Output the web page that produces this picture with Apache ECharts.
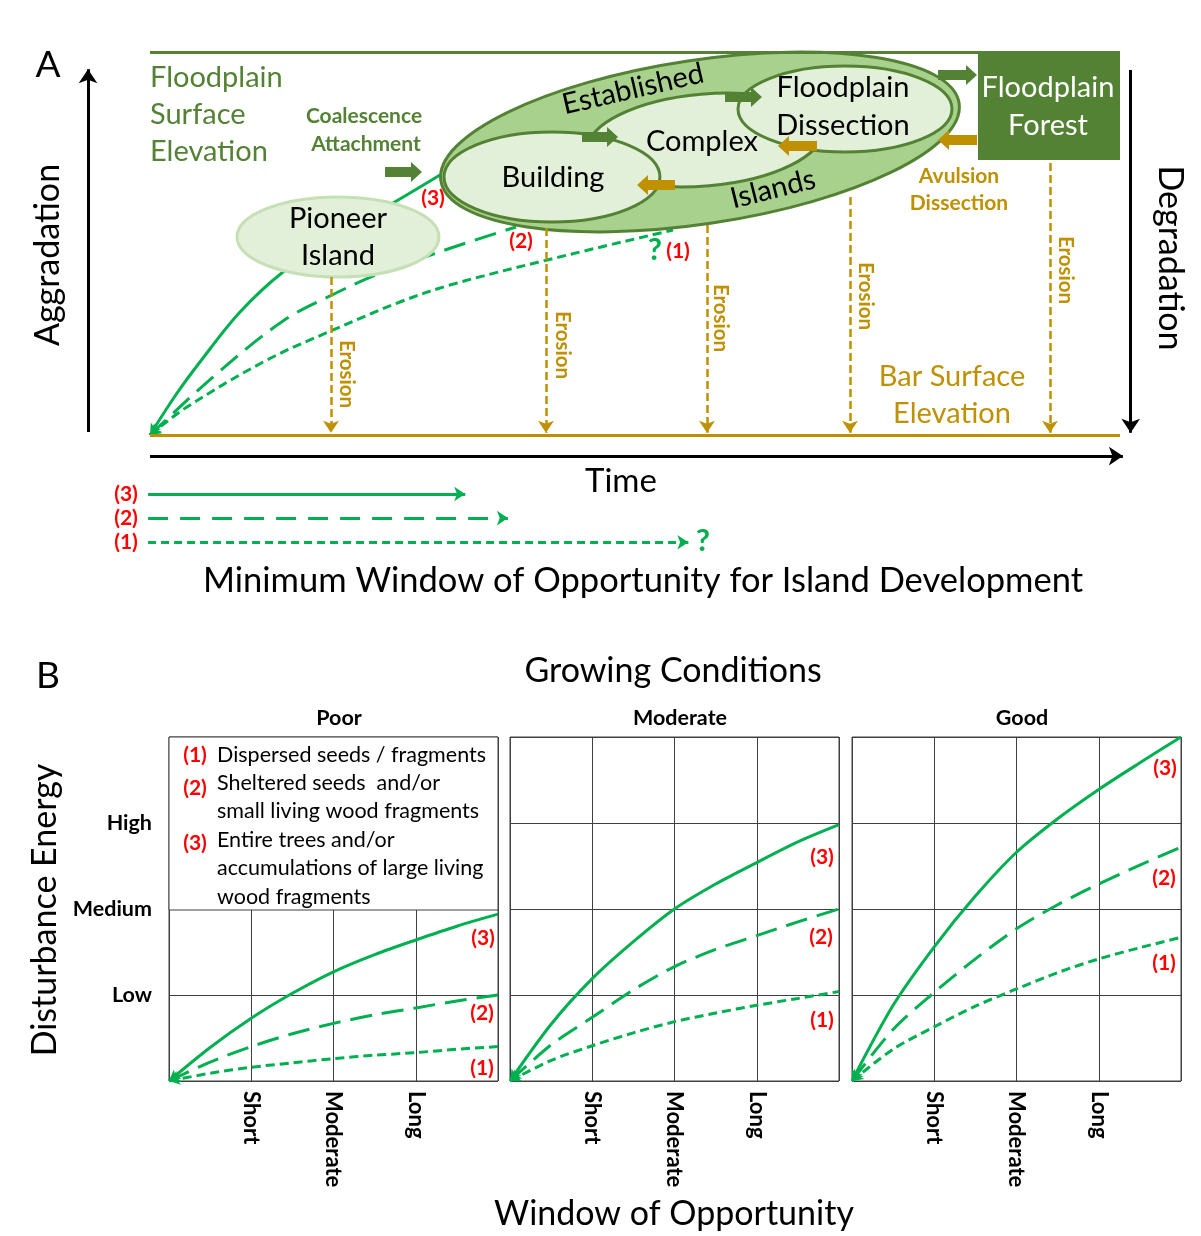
<!DOCTYPE html>
<html><head><meta charset="utf-8">
<script src="https://cdn.jsdelivr.net/npm/echarts@6/dist/echarts.min.js"></script>
<style>html,body{margin:0;padding:0;background:#fff}#c{width:1201px;height:1236px}</style>
</head><body><div id="c"></div>
<script>
// ---------- Panel A: island development over time (time %, elevation %) ----------
// (3) entire trees, (2) sheltered seeds / small fragments, (1) dispersed seeds
const trajectory3 = [[0,0],[2.58,10.18],[5.15,19.06],[9.28,32.11],[13.71,42.56],[19.59,52.74],[25.05,60.57],[30.41,68.67]];
const trajectory2 = [[0,0],[6.49,15.14],[13.71,29.77],[18.97,36.81],[23.51,42.04],[30.72,48.56],[37.73,54.31]];
const trajectory1 = [[0,0],[3.81,7.31],[12.06,19.58],[18.87,27.42],[25.77,34.73],[30.93,39.16],[40.93,45.69],[53.92,53.52]];

// erosion events: time and elevation the surface is cut down from
const erosionTime = [18.66, 40.82, 57.42, 72.16, 92.78];
const erosionFrom = [41.25, 54.05, 54.83, 62.14, 71.02];

// minimum window of opportunity (time %) for each propagule class
const windowClass = ['(3)', '(2)', '(1)'];
const windowEnd = [32.5, 36.9, 55.5];

// landform stages: centre time, centre elevation, half-extent in time, half-extent in elevation, tilt (deg)
const stageNames = ['Established Islands', 'Complex', 'Building', 'Floodplain Dissection', 'Pioneer Island'];
const stageExtent = [
  [56.70, 76.50, 27.01, 21.41, 8.5],
  [57.22, 77.02, 12.16, 12.01, 5],
  [41.44, 67.36, 11.13, 11.75, 0],
  [71.65, 85.12, 11.03, 11.23, 0],
  [19.38, 51.70, 10.41, 10.44, 0]
];
const forestExtent = [85.36, 100, 71.8, 100];

// stage transitions: from time, to time, elevation (green = succession, gold = reset)
const advanceSteps = [[24.23, 28.04, 68.67], [44.54, 48.25, 77.81], [59.28, 63.09, 88.25], [81.24, 85.26, 94.0]];
const resetSteps = [[85.26, 81.24, 77.02], [68.76, 64.74, 75.46], [54.12, 50.21, 65.27]];

// ---------- Panel B: disturbance energy tolerated vs window of opportunity ----------
const conditions = ['Poor', 'Moderate', 'Good'];
const windowTicks = ['', 'Short', 'Moderate', 'Long', ''];
const energyTicks = ['', 'Low', 'Medium', 'High', ''];
const windowSteps = [0, 0.5, 1, 1.5, 2, 2.5, 3, 3.5, 4];
const energy3 = [
  [0, 0.39, 0.73, 1.02, 1.27, 1.47, 1.64, 1.80, 1.94],
  [0, 0.66, 1.19, 1.62, 2.00, 2.29, 2.54, 2.78, 2.98],
  [0, 0.88, 1.56, 2.15, 2.66, 3.05, 3.39, 3.70, 4.00]
];
const energy2 = [
  [0, 0.22, 0.40, 0.55, 0.67, 0.77, 0.85, 0.93, 1.00],
  [0, 0.42, 0.74, 1.06, 1.33, 1.53, 1.69, 1.85, 2.00],
  [0, 0.60, 1.03, 1.42, 1.77, 2.05, 2.29, 2.51, 2.72]
];
const energy1 = [
  [0, 0.09, 0.16, 0.21, 0.26, 0.30, 0.33, 0.37, 0.40],
  [0, 0.24, 0.41, 0.56, 0.69, 0.79, 0.88, 0.96, 1.04],
  [0, 0.37, 0.63, 0.87, 1.07, 1.26, 1.42, 1.55, 1.67]
];

// ---------- styling ----------
const FONT = 'Lato';
const GREEN = '#00b050', DARK = '#548235', GOLD = '#bf9000', RED = '#ff0000';
const LIGHT = '#e2f0d9', MID = '#a9d18e';
const DASH_LONG = [22, 10], DASH_SHORT = [9, 5];
const stageFill = [MID, LIGHT, LIGHT, LIGHT, LIGHT];
const stageStroke = [DARK, DARK, DARK, DARK, '#c5e0b4'];
const BIG = 29, HUGE = 34, SMALL = 21;

const chart = echarts.init(document.getElementById('c'));

function txt(text, x, y, size, color, o) {
  o = o || {};
  return {
    type: 'text', x: x, y: y, z: 100, silent: true,
    rotation: (o.rot || 0) * Math.PI / 180,
    style: {
      text: text, fill: color,
      font: (o.bold ? 'bold ' : '') + size + 'px ' + FONT,
      align: o.align || 'center', verticalAlign: 'middle'
    }
  };
}
const zip = (xs, ys) => xs.map((x, i) => [x, ys[i]]);

// put a small arrowhead on the first point, pointing back along the curve
// (sx, sy: pixels per axis unit, used only to orient the head)
function withStartArrow(pts, sx, sy) {
  const dx = (pts[1][0] - pts[0][0]) * sx, dy = (pts[1][1] - pts[0][1]) * sy;
  const rot = Math.atan2(dy, dx) * 180 / Math.PI + 90;
  return pts.map((p, i) => i === 0
    ? { value: p, symbol: 'arrow', symbolSize: [9, 11], symbolRotate: rot }
    : { value: p, symbol: 'none' });
}

// ---- axes ----
const xAxes = [{ gridIndex: 0, type: 'value', min: -8, max: 105, show: false }];
const yAxes = [{ gridIndex: 0, type: 'value', min: -32, max: 100, show: false }];
const grids = [{ left: 72.4, top: 52, width: 1096.1, height: 505.56, show: false, outerBoundsMode: 'none' }];
const bLeft = [169, 510, 852];
conditions.forEach((c, i) => {
  grids.push({ left: bLeft[i], top: 737, width: 329, height: 344, show: true, outerBoundsMode: 'none',
    borderColor: '#404040', borderWidth: 1, backgroundColor: 'transparent' });
  xAxes.push({
    gridIndex: i + 1, type: 'value', min: 0, max: 4, interval: 1,
    axisLine: { show: false }, axisTick: { show: false },
    splitLine: { show: true, lineStyle: { color: '#404040', width: 1 } },
    axisLabel: { rotate: -90, margin: 10, fontFamily: FONT, fontWeight: 'bold', fontSize: 22, color: '#000',
      formatter: v => windowTicks[v] }
  });
  yAxes.push({
    gridIndex: i + 1, type: 'value', min: 0, max: 4, interval: 1,
    axisLine: { show: false }, axisTick: { show: false },
    splitLine: { show: true, lineStyle: { color: '#404040', width: 1 } },
    axisLabel: { show: i === 0, margin: 17, fontFamily: FONT, fontWeight: 'bold', fontSize: 21.5, color: '#000',
      formatter: v => energyTicks[v] }
  });
});

// ---- series ----
const series = [];
function aLine(name, data, dash) {
  series.push({ name: name, type: 'line', xAxisIndex: 0, yAxisIndex: 0,
    data: withStartArrow(data, 9.7, 3.83), smooth: 0.35,
    showSymbol: true, z: 2, silent: true, itemStyle: { color: GREEN },
    lineStyle: { color: GREEN, width: 3, type: dash } });
}
aLine('(3)', trajectory3, 'solid');
aLine('(2)', trajectory2, DASH_LONG);
aLine('(1)', trajectory1, DASH_SHORT);

// frame lines, axis arrows, erosion arrows
function mlSeries(lines, color, width, dash, arrowSize, z) {
  series.push({
    type: 'line', xAxisIndex: 0, yAxisIndex: 0, data: [], z: z || 3, silent: true,
    markLine: {
      silent: true, animation: false, symbol: ['none', arrowSize ? 'arrow' : 'none'],
      symbolSize: arrowSize || 0, label: { show: false },
      lineStyle: { color: color, width: width, type: dash },
      emphasis: { disabled: true },
      data: lines.map(l => [{ coord: l[0] }, { coord: l[1] }])
    }
  });
}
mlSeries([[[0, 100], [100, 100]]], DARK, 3, 'solid', 0, 1);
mlSeries([[[0, 0], [100, 0]]], GOLD, 3, 'solid', 0, 3);
mlSeries(erosionTime.map((t, i) => [[t, erosionFrom[i]], [t, 0.6]]), GOLD, 2.5, [8, 4], 12, 3);
mlSeries([[[-6.39, 0.8], [-6.39, 95.5]], [[101.1, 95.3], [101.1, 0.6]], [[0, -5.5], [100.3, -5.5]]], '#000', 3, 'solid', 14, 3);
const wDash = ['solid', [20, 12], [8, 5]];
windowClass.forEach((w, i) => {
  mlSeries([[[-0.2, -15.4 - 6.3 * i], [windowEnd[i], -15.4 - 6.3 * i]]], GREEN, 3, wDash[i], 11, 3);
});

// landform stages as ellipses, forest as a block
series.push({
  type: 'custom', xAxisIndex: 0, yAxisIndex: 0, z: 4, silent: true, clip: false,
  data: stageExtent,
  renderItem: function (params, api) {
    const i = params.dataIndex;
    const c = api.coord([api.value(0), api.value(1)]);
    const s = api.size([api.value(2), api.value(3)]);
    return {
      type: 'ellipse', x: c[0], y: c[1], rotation: api.value(4) * Math.PI / 180,
      shape: { cx: 0, cy: 0, rx: s[0], ry: s[1] },
      style: { fill: stageFill[i], stroke: stageStroke[i], lineWidth: 3 }
    };
  }
});
series.push({
  type: 'custom', xAxisIndex: 0, yAxisIndex: 0, z: 4, silent: true, clip: false,
  data: [forestExtent],
  renderItem: function (params, api) {
    const p0 = api.coord([api.value(0), api.value(3)]);
    const p1 = api.coord([api.value(1), api.value(2)]);
    return { type: 'rect', shape: { x: p0[0], y: p0[1], width: p1[0] - p0[0], height: p1[1] - p0[1] },
      style: { fill: DARK } };
  }
});
function blockArrows(steps, color) {
  series.push({
    type: 'custom', xAxisIndex: 0, yAxisIndex: 0, z: 5, silent: true, clip: false,
    data: steps,
    renderItem: function (params, api) {
      const a = api.coord([api.value(0), api.value(2)]);
      const b = api.coord([api.value(1), api.value(2)]);
      const d = b[0] > a[0] ? 1 : -1, head = 11, sh = 5, hh = 10, y = a[1];
      const hx = b[0] - d * head;
      return { type: 'polygon', shape: { points: [
        [a[0], y - sh], [hx, y - sh], [hx, y - hh], [b[0], y], [hx, y + hh], [hx, y + sh], [a[0], y + sh]] },
        style: { fill: color } };
    }
  });
}
blockArrows(advanceSteps, DARK);
blockArrows(resetSteps, GOLD);

// panel B curves
const bDash = ['solid', DASH_LONG, DASH_SHORT];
conditions.forEach((c, i) => {
  [energy3[i], energy2[i], energy1[i]].forEach((vals, k) => {
    series.push({ name: c + ' (' + (3 - k) + ')', type: 'line', xAxisIndex: i + 1, yAxisIndex: i + 1,
      data: withStartArrow(zip(windowSteps, vals), 82.25, 86), smooth: 0.3, showSymbol: true, z: 3, silent: true,
      itemStyle: { color: GREEN },
      lineStyle: { color: GREEN, width: 3, type: bDash[k] } });
  });
});

// ---- text ----
const g = [];
// panel A
g.push(txt('A', 48, 65, 37, '#000'));
g.push(txt('Floodplain', 150, 78, BIG, DARK, { align: 'left' }));
g.push(txt('Surface', 150, 115, BIG, DARK, { align: 'left' }));
g.push(txt('Elevation', 150, 152, BIG, DARK, { align: 'left' }));
g.push(txt('Coalescence', 364, 116, SMALL, DARK, { bold: true }));
g.push(txt('Attachment', 366, 144, SMALL, DARK, { bold: true }));
g.push(txt('(3)', 433, 198, SMALL, RED, { bold: true }));
g.push(txt('(2)', 521, 241, SMALL, RED, { bold: true }));
g.push(txt('?', 655, 250, 31, GREEN, { bold: true }));
g.push(txt('(1)', 678, 251, SMALL, RED, { bold: true }));
g.push(txt('Pioneer', 338, 219, BIG, '#000'));
g.push(txt('Island', 338, 256, BIG, '#000'));
g.push(txt('Established', 633, 89, BIG, '#000', { rot: 13 }));
g.push(txt('Islands', 773, 189, BIG, '#000', { rot: 14 }));
g.push(txt('Building', 553, 178, BIG, '#000'));
g.push(txt('Complex', 702, 142, BIG, '#000'));
g.push(txt('Floodplain', 843, 88, BIG, '#000'));
g.push(txt('Dissection', 843, 126, BIG, '#000'));
g.push(txt('Floodplain', 1048, 88, BIG, '#fff'));
g.push(txt('Forest', 1048, 126, BIG, '#fff'));
g.push(txt('Avulsion', 959, 176, SMALL, GOLD, { bold: true }));
g.push(txt('Dissection', 959, 203, SMALL, GOLD, { bold: true }));
g.push(txt('Bar Surface', 952, 377, BIG, GOLD));
g.push(txt('Elevation', 952, 414, BIG, GOLD));
[[347, 374], [563, 345], [721, 318], [866, 296], [1066, 270]].forEach(p =>
  g.push(txt('Erosion', p[0], p[1], 20.5, GOLD, { bold: true, rot: -90 })));
g.push(txt('Aggradation', 48, 255, HUGE, '#000', { rot: 90 }));
g.push(txt('Degradation', 1170, 258, HUGE, '#000', { rot: -90 }));
g.push(txt('Time', 621, 481, 33, '#000'));
windowClass.forEach((w, i) => g.push(txt(w, 126, 494 + 24 * i, SMALL, RED, { bold: true })));
g.push(txt('?', 703, 541, 31, GREEN, { bold: true }));
g.push(txt('Minimum Window of Opportunity for Island Development', 643, 581, 34.5, '#000'));
// panel B
g.push(txt('B', 48, 676, 37, '#000'));
g.push(txt('Growing Conditions', 673, 671, HUGE, '#000'));
conditions.forEach((c, i) => g.push(txt(c, bLeft[i] + 170, 718, 21.5, '#000', { bold: true })));
g.push(txt('Disturbance Energy', 45, 910, HUGE, '#000', { rot: 90 }));
g.push(txt('Window of Opportunity', 674, 1214, HUGE, '#000'));
g.push({ type: 'rect', z: 90, silent: true, shape: { x: 169, y: 737, width: 329, height: 173 },
  style: { fill: '#fff', stroke: '#404040', lineWidth: 1 } });
const legendRows = [['(1)', 755, ['Dispersed seeds / fragments'], 755],
  ['(2)', 788, ['Sheltered seeds  and/or', 'small living wood fragments'], 783],
  ['(3)', 843, ['Entire trees and/or', 'accumulations of large living', 'wood fragments'], 840]];
legendRows.forEach(r => {
  g.push(txt(r[0], 195, r[1], SMALL, RED, { bold: true }));
  r[2].forEach((line, j) => g.push(txt(line, 217, r[3] + 28.5 * j, 21.5, '#000', { align: 'left' })));
});
const curveTags = [
  [[483, 938], [482, 1013], [482, 1068]],
  [[822, 857], [821, 937], [822, 1020]],
  [[1165, 768], [1164, 878], [1164, 963]]
];
curveTags.forEach(tags => tags.forEach((p, k) => g.push(txt('(' + (3 - k) + ')', p[0], p[1], SMALL, RED, { bold: true }))));

chart.setOption({
  animation: false,
  backgroundColor: '#fff',
  grid: grids, xAxis: xAxes, yAxis: yAxes,
  series: series,
  graphic: { elements: g }
});
</script></body></html>
